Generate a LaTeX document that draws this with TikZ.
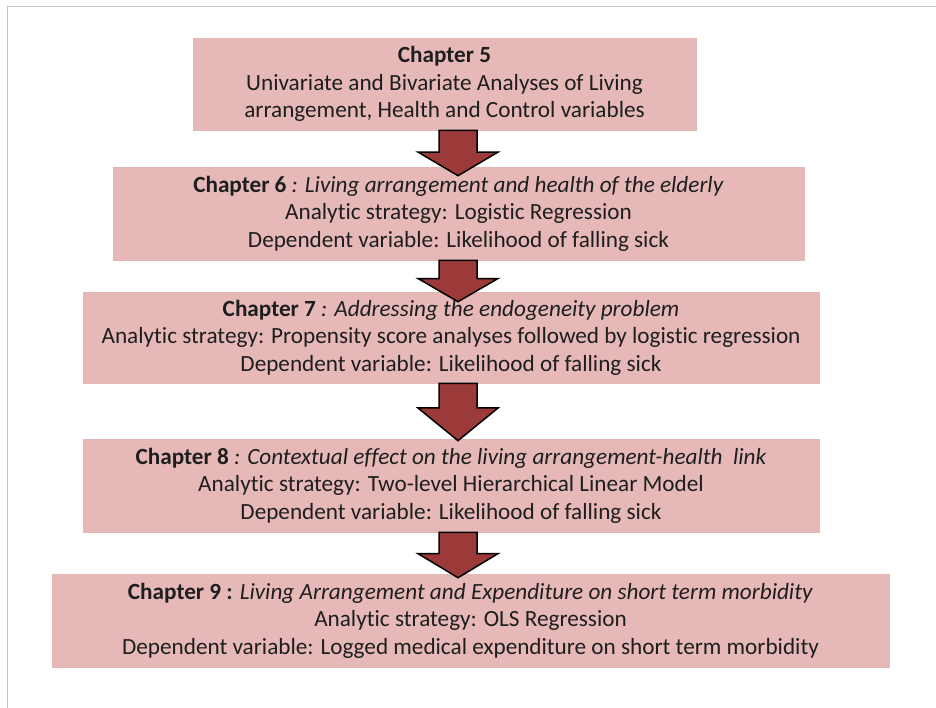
\documentclass[tikz,border=0pt]{standalone}
\usepackage{fontspec}
\setmainfont{Carlito}[Ligatures=NoCommon]
\usetikzlibrary{calc}

\definecolor{boxpink}{HTML}{E6B9B8}
\definecolor{arrowred}{HTML}{9B3A38}
\definecolor{inktext}{HTML}{1E1E1E}

\begin{document}
\begin{tikzpicture}[x=1pt, y=1pt,
  chapbox/.style={rectangle, fill=boxpink, draw=boxpink!96!gray, line width=0.6pt,
    align=center, text=inktext, inner sep=0pt,
    font=\fontsize{23.2}{27.5}\selectfont},
  bigarrow/.style={fill=arrowred, draw=black, line width=1.5pt, line join=miter}]
\useasboundingbox (0,0) rectangle (936,708);

% Frame
\draw[gray!45, line width=1pt] (7,0) -- (7,701) -- (936,701);

% Nodes
\node[chapbox, minimum width=503, minimum height=92] (c5) at (444.5,624)
  {\textbf{Chapter 5}\\Univariate and Bivariate Analyses of Living\\arrangement, Health and Control variables};
\node[chapbox, minimum width=691, minimum height=93] (c6) at (458.5,494.5)
  {\textbf{Chapter 6} \textit{: Living arrangement and health of the elderly}\\Analytic strategy: Logistic Regression\\Dependent variable: Likelihood of falling sick};
\node[chapbox, minimum width=736, minimum height=91] (c7) at (451,370.5)
  {\textbf{Chapter 7} \textit{: Addressing the endogeneity problem}\\Analytic strategy: Propensity score analyses followed by logistic regression\\Dependent variable: Likelihood of falling sick};
\node[chapbox, minimum width=736, minimum height=93] (c8) at (451,222.5)
  {\textbf{Chapter 8} \textit{: Contextual effect on the living arrangement-health\ \ link}\\Analytic strategy: Two-level Hierarchical Linear Model\\Dependent variable: Likelihood of falling sick};
\node[chapbox, minimum width=837, minimum height=93] (c9) at (470.5,87.5)
  {\textbf{Chapter 9 :} \textit{Living Arrangement and Expenditure on short term morbidity}\\Analytic strategy: OLS Regression\\Dependent variable: Logged medical expenditure on short term morbidity};

\coordinate (mid) at (458,0);

% Arrows
\draw[bigarrow] let \p1=(c5.south -| mid), \p2=($(c6.north -| mid)+(0,-9)$), \n1={0.52*(\y1-\y2)} in
  (\x1-19pt,\y1) -- (\x1+19pt,\y1) -- (\x1+19pt,\y2+\n1) -- (\x1+40pt,\y2+\n1) -- (\x1,\y2)
  -- (\x1-40pt,\y2+\n1) -- (\x1-19pt,\y2+\n1) -- cycle;
\draw[bigarrow] let \p1=(c6.south -| mid), \p2=($(c7.north -| mid)+(0,-10)$), \n1={0.56*(\y1-\y2)} in
  (\x1-19pt,\y1) -- (\x1+19pt,\y1) -- (\x1+19pt,\y2+\n1) -- (\x1+40pt,\y2+\n1) -- (\x1,\y2)
  -- (\x1-40pt,\y2+\n1) -- (\x1-19pt,\y2+\n1) -- cycle;
\draw[bigarrow] let \p1=(c7.south -| mid), \p2=($(c8.north -| mid)+(0,-2)$), \n1={0.57*(\y1-\y2)} in
  (\x1-19pt,\y1) -- (\x1+19pt,\y1) -- (\x1+19pt,\y2+\n1) -- (\x1+40pt,\y2+\n1) -- (\x1,\y2)
  -- (\x1-40pt,\y2+\n1) -- (\x1-19pt,\y2+\n1) -- cycle;
\draw[bigarrow] let \p1=(c8.south -| mid), \p2=($(c9.north -| mid)+(0,-4)$), \n1={0.53*(\y1-\y2)} in
  (\x1-19pt,\y1) -- (\x1+19pt,\y1) -- (\x1+19pt,\y2+\n1) -- (\x1+40pt,\y2+\n1) -- (\x1,\y2)
  -- (\x1-40pt,\y2+\n1) -- (\x1-19pt,\y2+\n1) -- cycle;
\end{tikzpicture}
\end{document}
